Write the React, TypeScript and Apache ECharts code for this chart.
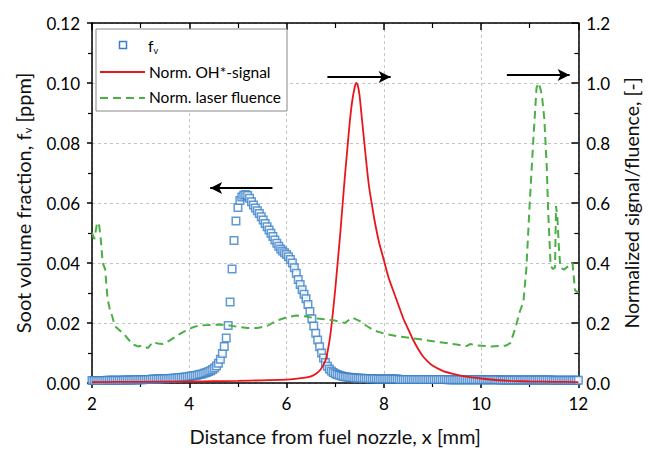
import React, { useEffect, useRef } from 'react';
import * as echarts from 'echarts';

// Soot volume fraction f_v [ppm], sampled every 0.04 mm from x = 2.00 mm
const fvStart = 2;
const fvStep = 0.04;
const fvValues2 = [0.0008,0.0008,0.0008,0.0008,0.0008,0.0008,0.0008,0.0008,0.0009,0.0009,0.0009,0.0009,0.0009,0.0009,0.0009,0.0009,0.0009,0.0010,0.0010,0.0010,0.0010,0.0010,0.0010,0.0011,0.0011];
const fvValues3 = [0.0011,0.0011,0.0012,0.0012,0.0012,0.0012,0.0013,0.0013,0.0013,0.0013,0.0014,0.0014,0.0014,0.0015,0.0015,0.0015,0.0016,0.0016,0.0017,0.0017,0.0018,0.0018,0.0019,0.0020,0.0021];
const fvValues4 = [0.0022,0.0023,0.0024,0.0025,0.0026,0.0028,0.0029,0.0031,0.0033,0.0035,0.0038,0.0041,0.0045,0.0050,0.0057,0.0066,0.0079,0.0098,0.0122,0.0150,0.0192,0.0270,0.0380,0.0475,0.0540];
const fvValues5 = [0.0585,0.0608,0.0620,0.0626,0.0628,0.0625,0.0616,0.0604,0.0593,0.0583,0.0574,0.0565,0.0554,0.0543,0.0532,0.0521,0.0510,0.0499,0.0488,0.0477,0.0466,0.0456,0.0447,0.0440,0.0434];
const fvValues6 = [0.0428,0.0421,0.0412,0.0400,0.0384,0.0366,0.0345,0.0328,0.0311,0.0296,0.0281,0.0262,0.0238,0.0214,0.0190,0.0166,0.0143,0.0121,0.0100,0.0083,0.0068,0.0056,0.0047,0.0040,0.0035];
const fvValues7 = [0.0031,0.0028,0.0026,0.0024,0.0022,0.0021,0.0020,0.0019,0.0018,0.0018,0.0017,0.0017,0.0016,0.0016,0.0016,0.0015,0.0015,0.0015,0.0014,0.0014,0.0014,0.0014,0.0013,0.0013,0.0013];
const fvValues8 = [0.0013,0.0013,0.0013,0.0013,0.0013,0.0013,0.0013,0.0013,0.0012,0.0012,0.0012,0.0012,0.0012,0.0012,0.0012,0.0012,0.0012,0.0012,0.0012,0.0012,0.0012,0.0012,0.0012,0.0012,0.0012];
const fvValues9 = [0.0012,0.0012,0.0012,0.0012,0.0012,0.0012,0.0012,0.0012,0.0011,0.0011,0.0011,0.0011,0.0011,0.0011,0.0011,0.0011,0.0011,0.0011,0.0011,0.0011,0.0011,0.0011,0.0011,0.0011,0.0011];
const fvValues10 = [0.0011,0.0011,0.0011,0.0011,0.0011,0.0011,0.0011,0.0011,0.0011,0.0011,0.0010,0.0010,0.0010,0.0010,0.0010,0.0010,0.0010,0.0010,0.0010,0.0010,0.0010,0.0010,0.0010,0.0010,0.0010];
const fvValues11 = [0.0010,0.0010,0.0010,0.0010,0.0010,0.0010,0.0010,0.0010,0.0010,0.0010,0.0010,0.0010,0.0009,0.0009,0.0009,0.0009,0.0009,0.0009,0.0009,0.0009,0.0009,0.0009,0.0009,0.0009,0.0009,0.0009];

// Normalized OH*-signal
const ohX = [2,3,4,4.5,5,5.5,6,6.3,6.5,6.6,6.7,6.8,6.85,6.9,6.95,7.0,7.05,7.1,7.15,7.2,7.25,7.3,7.35,7.4,7.43,7.46,7.5,7.55,7.6,7.65,7.7,7.75,7.8,7.9,8.0,8.1,8.2,8.3,8.4,8.5,8.6,8.7,8.8,8.9,9.0,9.2,9.4,9.6,9.8,10.0,10.3,10.6,11.0,11.5,12];
const ohY = [0.003,0.004,0.005,0.006,0.007,0.009,0.011,0.016,0.022,0.030,0.045,0.075,0.11,0.16,0.23,0.31,0.40,0.49,0.59,0.69,0.78,0.87,0.94,0.985,1.0,0.995,0.96,0.88,0.80,0.72,0.65,0.60,0.55,0.47,0.41,0.35,0.305,0.26,0.215,0.18,0.145,0.115,0.09,0.072,0.058,0.041,0.031,0.024,0.019,0.015,0.010,0.007,0.005,0.004,0.003];

// Normalized laser fluence
const fluX = [2.0,2.05,2.1,2.14,2.18,2.22,2.27,2.32,2.36,2.42,2.47,2.55,2.65,2.75,2.85,2.95,3.05,3.15,3.25,3.35,3.45,3.6,3.75,3.9,4.05,4.2,4.4,4.6,4.8,5.0,5.2,5.4,5.6,5.8,6.0,6.2,6.4,6.6,6.8,7.0,7.2,7.3,7.35,7.5,7.65,7.8,8.0,8.3,8.6,8.9,9.2,9.5,9.7,9.78,9.9,10.2,10.5,10.6,10.7,10.8,10.87,10.93,11.0,11.07,11.14,11.19,11.25,11.3,11.35,11.38,11.43,11.48,11.52,11.54,11.57,11.6,11.63,11.7,11.8,11.88,11.93,12.0];
const fluY = [0.50,0.48,0.53,0.535,0.48,0.40,0.38,0.28,0.25,0.22,0.19,0.178,0.165,0.145,0.128,0.122,0.125,0.116,0.137,0.132,0.13,0.142,0.158,0.172,0.184,0.192,0.193,0.195,0.193,0.187,0.183,0.183,0.19,0.208,0.219,0.225,0.222,0.215,0.212,0.208,0.2,0.212,0.218,0.207,0.19,0.175,0.165,0.155,0.149,0.142,0.135,0.128,0.123,0.13,0.125,0.122,0.124,0.133,0.18,0.24,0.27,0.38,0.6,0.8,0.985,1.0,0.96,0.88,0.72,0.57,0.39,0.38,0.385,0.59,0.55,0.45,0.385,0.378,0.39,0.40,0.31,0.30];

// Direction arrows (data units): [xStart, xEnd, y]
const arrowLeftAxis = [5.71, 4.43, 0.065];
const arrowRight1 = [6.84, 8.14, 1.02];
const arrowRight2 = [10.53, 11.82, 1.027];

const BLUE = '#3a80c8';
const RED = '#e8161c';
const GREEN = '#4caf45';
const FONT = 'Lato, "Open Sans", "DejaVu Sans", sans-serif';

export default function App() {
  const ref = useRef<HTMLDivElement>(null);
  useEffect(() => {
    document.body.style.margin = '0';
    const chart = echarts.init(ref.current!, null, { renderer: 'svg' });
    const fvValues = [
      ...fvValues2, ...fvValues3, ...fvValues4, ...fvValues5, ...fvValues6,
      ...fvValues7, ...fvValues8, ...fvValues9, ...fvValues10, ...fvValues11,
    ];
    const fvData = fvValues.map((v, i) => [+(fvStart + i * fvStep).toFixed(2), v]);
    const ohData = ohX.map((x, i) => [x, ohY[i]]);
    const fluData = fluX.map((x, i) => [x, fluY[i]]);

    const axisLine = { show: true, onZero: false, lineStyle: { color: '#000', width: 1.5 } };
    const arrowML = (arrs: number[][]) => ({
      silent: true,
      symbol: ['none', 'arrow'],
      symbolSize: [9, 12],
      label: { show: false },
      emphasis: { disabled: true },
      lineStyle: { color: '#000', width: 2, type: 'solid' },
      data: arrs.map((a) => [{ coord: [a[0], a[2]] }, { coord: [a[1], a[2]] }]),
    });

    chart.setOption({
      animation: false,
      backgroundColor: '#fff',
      textStyle: { fontFamily: FONT },
      grid: { left: 92, right: 67, top: 23, bottom: 68 },
      xAxis: [
        {
          type: 'value', min: 2, max: 12, interval: 2, position: 'bottom',
          name: 'Distance from fuel nozzle, x [mm]', nameLocation: 'middle', nameGap: 43,
          nameTextStyle: { fontSize: 20, color: '#111', fontFamily: FONT },
          axisLine,
          axisTick: { show: true, inside: false, length: 5, lineStyle: { color: '#000', width: 1.5 } },
          minorTick: { show: true, splitNumber: 2, length: 4, lineStyle: { color: '#000', width: 1.2 } },
          axisLabel: { fontSize: 17, color: '#000', margin: 12, fontFamily: FONT },
          splitLine: { show: true, lineStyle: { color: '#c4c4c4', type: [3, 3], width: 1 } },
        },
        {
          type: 'value', min: 2, max: 12, interval: 2, position: 'top',
          axisLine,
          axisTick: { show: true, inside: true, length: 7, lineStyle: { color: '#000', width: 1.5 } },
          minorTick: { show: true, splitNumber: 2, length: 5, lineStyle: { color: '#000', width: 1.2 } },
          axisLabel: { show: false },
          splitLine: { show: false },
        },
      ],
      yAxis: [
        {
          type: 'value', min: 0, max: 0.12, interval: 0.02, position: 'left',
          name: 'Soot volume fraction, f{sub|v} [ppm]', nameLocation: 'middle', nameGap: 59,
          nameTextStyle: {
            fontSize: 20, color: '#111', fontFamily: FONT,
            rich: { sub: { fontSize: 11, fontFamily: FONT, color: '#111', verticalAlign: 'bottom', padding: [10, 0, 0, 0] } },
          },
          axisLine,
          axisTick: { show: true, inside: false, length: 5, lineStyle: { color: '#000', width: 1.5 } },
          minorTick: { show: true, splitNumber: 2, length: 4, lineStyle: { color: '#000', width: 1.2 } },
          axisLabel: { fontSize: 17, color: '#000', margin: 12, fontFamily: FONT, formatter: (v: number) => v.toFixed(2) },
          splitLine: { show: true, lineStyle: { color: '#c4c4c4', type: [3, 3], width: 1 } },
        },
        {
          type: 'value', min: 0, max: 1.2, interval: 0.2, position: 'right',
          name: 'Normalized signal/fluence, [-]', nameLocation: 'middle', nameGap: 41,
          nameTextStyle: { fontSize: 19.5, color: '#111', fontFamily: FONT },
          axisLine,
          axisTick: { show: true, inside: true, length: 7, lineStyle: { color: '#000', width: 1.5 } },
          minorTick: { show: true, splitNumber: 2, length: 4, lineStyle: { color: '#000', width: 1.2 } },
          axisLabel: { fontSize: 17, color: '#000', margin: 8, fontFamily: FONT, formatter: (v: number) => v.toFixed(1) },
          splitLine: { show: false },
        },
      ],
      series: [
        {
          name: 'fv', type: 'scatter', xAxisIndex: 0, yAxisIndex: 0,
          symbol: 'rect', symbolSize: 7.5,
          itemStyle: { color: '#fff', borderColor: BLUE, borderWidth: 1.5 },
          data: fvData,
          markLine: arrowML([arrowLeftAxis]),
        },
        {
          name: 'Norm. OH*-signal', type: 'line', xAxisIndex: 0, yAxisIndex: 1,
          showSymbol: false, smooth: 0.2,
          lineStyle: { color: RED, width: 1.8 },
          data: ohData,
          markLine: arrowML([arrowRight1, arrowRight2]),
        },
        {
          name: 'Norm. laser fluence', type: 'line', xAxisIndex: 0, yAxisIndex: 1,
          showSymbol: false,
          lineStyle: { color: GREEN, width: 2, type: [8, 5] },
          data: fluData,
        },
      ],
      graphic: [
        { type: 'rect', z: 100, shape: { x: 96, y: 29, width: 191, height: 82 }, style: { fill: '#fff', stroke: '#888', lineWidth: 1 } },
        { type: 'rect', z: 101, shape: { x: 119.5, y: 41.5, width: 7, height: 7 }, style: { fill: '#fff', stroke: BLUE, lineWidth: 1.5 } },
        {
          type: 'text', z: 101, x: 148, y: 46,
          style: {
            text: '{m|f}{s|v}', verticalAlign: 'middle',
            rich: {
              m: { fontSize: 15.5, fontFamily: FONT, fill: '#000' },
              s: { fontSize: 9, fontFamily: FONT, fill: '#000', verticalAlign: 'bottom', padding: [8, 0, 0, 0] },
            },
          },
        },
        { type: 'line', z: 101, shape: { x1: 100, y1: 72, x2: 145, y2: 72 }, style: { stroke: RED, lineWidth: 2 } },
        { type: 'text', z: 101, x: 149, y: 72, style: { text: 'Norm. OH*-signal', fontSize: 15.5, fontFamily: FONT, fill: '#000', verticalAlign: 'middle' } },
        { type: 'line', z: 101, shape: { x1: 100, y1: 98, x2: 145, y2: 98 }, style: { stroke: GREEN, lineWidth: 2, lineDash: [8, 5] } },
        { type: 'text', z: 101, x: 149, y: 97, style: { text: 'Norm. laser fluence', fontSize: 15.5, fontFamily: FONT, fill: '#000', verticalAlign: 'middle' } },
      ],
    });
    return () => chart.dispose();
  }, []);
  return <div ref={ref} style={{ width: 649, height: 451, position: 'absolute', left: 0, top: 0 }} />;
}
